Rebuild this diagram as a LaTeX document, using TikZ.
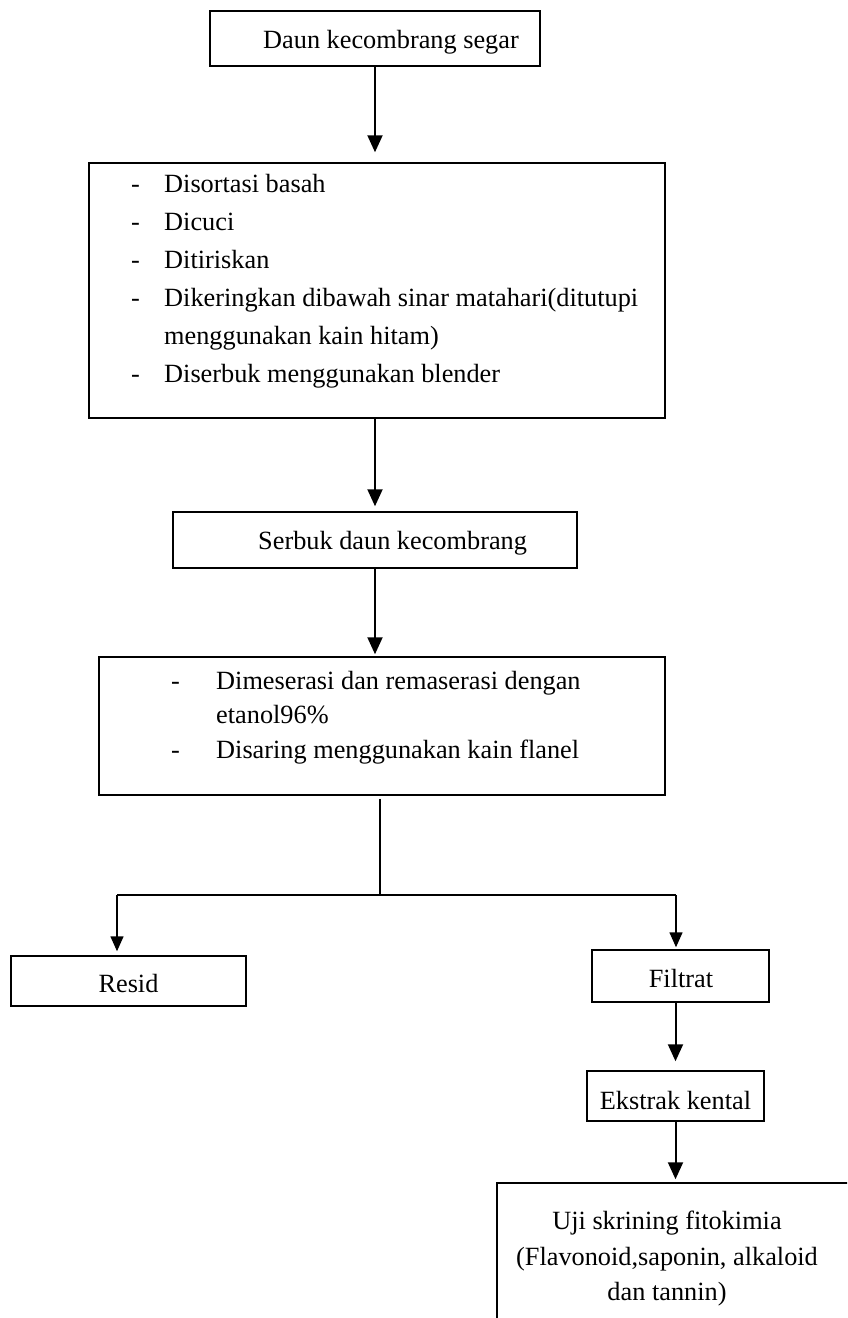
\documentclass[tikz,border=0pt]{standalone}
\usepackage{fontspec}
\setmainfont{Liberation Serif}
\usetikzlibrary{arrows.meta}
\begin{document}
\begin{tikzpicture}[x=1pt,y=-1pt,
  box/.style={draw,line width=1.5pt,inner sep=0,rectangle},
  txt/.style={inner sep=0,font=\fontsize{26.3}{34}\selectfont},
  arr/.style={line width=2pt,-{Triangle[width=15pt,length=17pt]}},
  arrs/.style={line width=1.5pt,-{Triangle[width=13pt,length=15pt]}},
  lnk/.style={line width=1.5pt}]
\useasboundingbox (0,0) rectangle (847,1318);
\clip (0,0) rectangle (847,1318);
\fill[white] (0,0) rectangle (847,1318);
% boxes
\node[box,minimum width=330pt,minimum height=55pt] (b1) at (375,38.5) {};
\node[box,minimum width=576pt,minimum height=255pt] (b2) at (377,290.5) {};
\node[box,minimum width=404pt,minimum height=56pt] (b3) at (375,540) {};
\node[box,minimum width=566pt,minimum height=138pt] (b4) at (382,726) {};
\node[box,minimum width=235pt,minimum height=50pt] (resid) at (128.5,981) {};
\node[box,minimum width=177pt,minimum height=52pt] (filtrat) at (680.5,976) {};
\node[box,minimum width=177pt,minimum height=50pt] (ekstrak) at (675.5,1096) {};
\node[box,minimum width=373pt,minimum height=157pt] (uji) at (683.5,1261.5) {};
% texts
\node[txt,anchor=base west] (t1) at (263,48) {Daun kecombrang segar};
\node[txt,anchor=base west] (d21) at (131,192) {-};
\node[txt,anchor=base west] (t21) at (164,192) {Disortasi basah};
\node[txt,anchor=base west] (d22) at (131,230) {-};
\node[txt,anchor=base west] (t22) at (164,230) {Dicuci};
\node[txt,anchor=base west] (d23) at (131,268) {-};
\node[txt,anchor=base west] (t23) at (164,268) {Ditiriskan};
\node[txt,anchor=base west] (d24) at (131,306) {-};
\node[txt,anchor=base west] (t24) at (164,306) {Dikeringkan dibawah sinar matahari(ditutupi};
\node[txt,anchor=base west] (t25) at (164,344) {menggunakan kain hitam)};
\node[txt,anchor=base west] (d26) at (131,382) {-};
\node[txt,anchor=base west] (t26) at (164,382) {Diserbuk menggunakan blender};
\node[txt,anchor=base west] (t3) at (258,549) {Serbuk daun kecombrang};
\node[txt,anchor=base west] (d41) at (171,689) {-};
\node[txt,anchor=base west] (t41) at (216,689) {Dimeserasi dan remaserasi dengan};
\node[txt,anchor=base west] (t42) at (216,723) {etanol96\%};
\node[txt,anchor=base west] (d43) at (171,758) {-};
\node[txt,anchor=base west] (t43) at (216,758) {Disaring menggunakan kain flanel};
\node[txt,anchor=base] (tr) at (128.5,992) {Resid};
\node[txt,anchor=base] (tf) at (681,987) {Filtrat};
\node[txt,anchor=base] (te) at (675.5,1109) {Ekstrak kental};
\node[txt,anchor=base] (tu1) at (667,1229) {Uji skrining fitokimia};
\node[txt,anchor=base] (tu2) at (667,1265) {(Flavonoid,saponin, alkaloid};
\node[txt,anchor=base] (tu3) at (667,1300) {dan tannin)};
% connectors
\draw[arr,shorten >=10pt] (b1.south) -- (b1.south |- b2.north);
\draw[arr,shorten >=5pt] (b3.north |- b2.south) -- (b3.north);
\draw[arr,shorten >=2pt] (b3.south) -- (b3.south |- b4.north);
\coordinate (sp) at (380,895);
\coordinate (L) at (117,895);
\coordinate (R) at (676,895);
\draw[lnk,shorten <=3pt] (b4.south -| sp) -- (sp);
\draw[lnk] (L) -- (R);
\draw[arrs,shorten >=4pt] (L) -- (L |- resid.north);
\draw[arrs,shorten >=2pt] (R) -- (R |- filtrat.north);
\draw[arr,shorten >=9pt] (filtrat.south -| ekstrak.north) -- (ekstrak.north);
\draw[arr,shorten >=3pt] (ekstrak.south) -- (ekstrak.south |- uji.north);
\end{tikzpicture}
\end{document}
